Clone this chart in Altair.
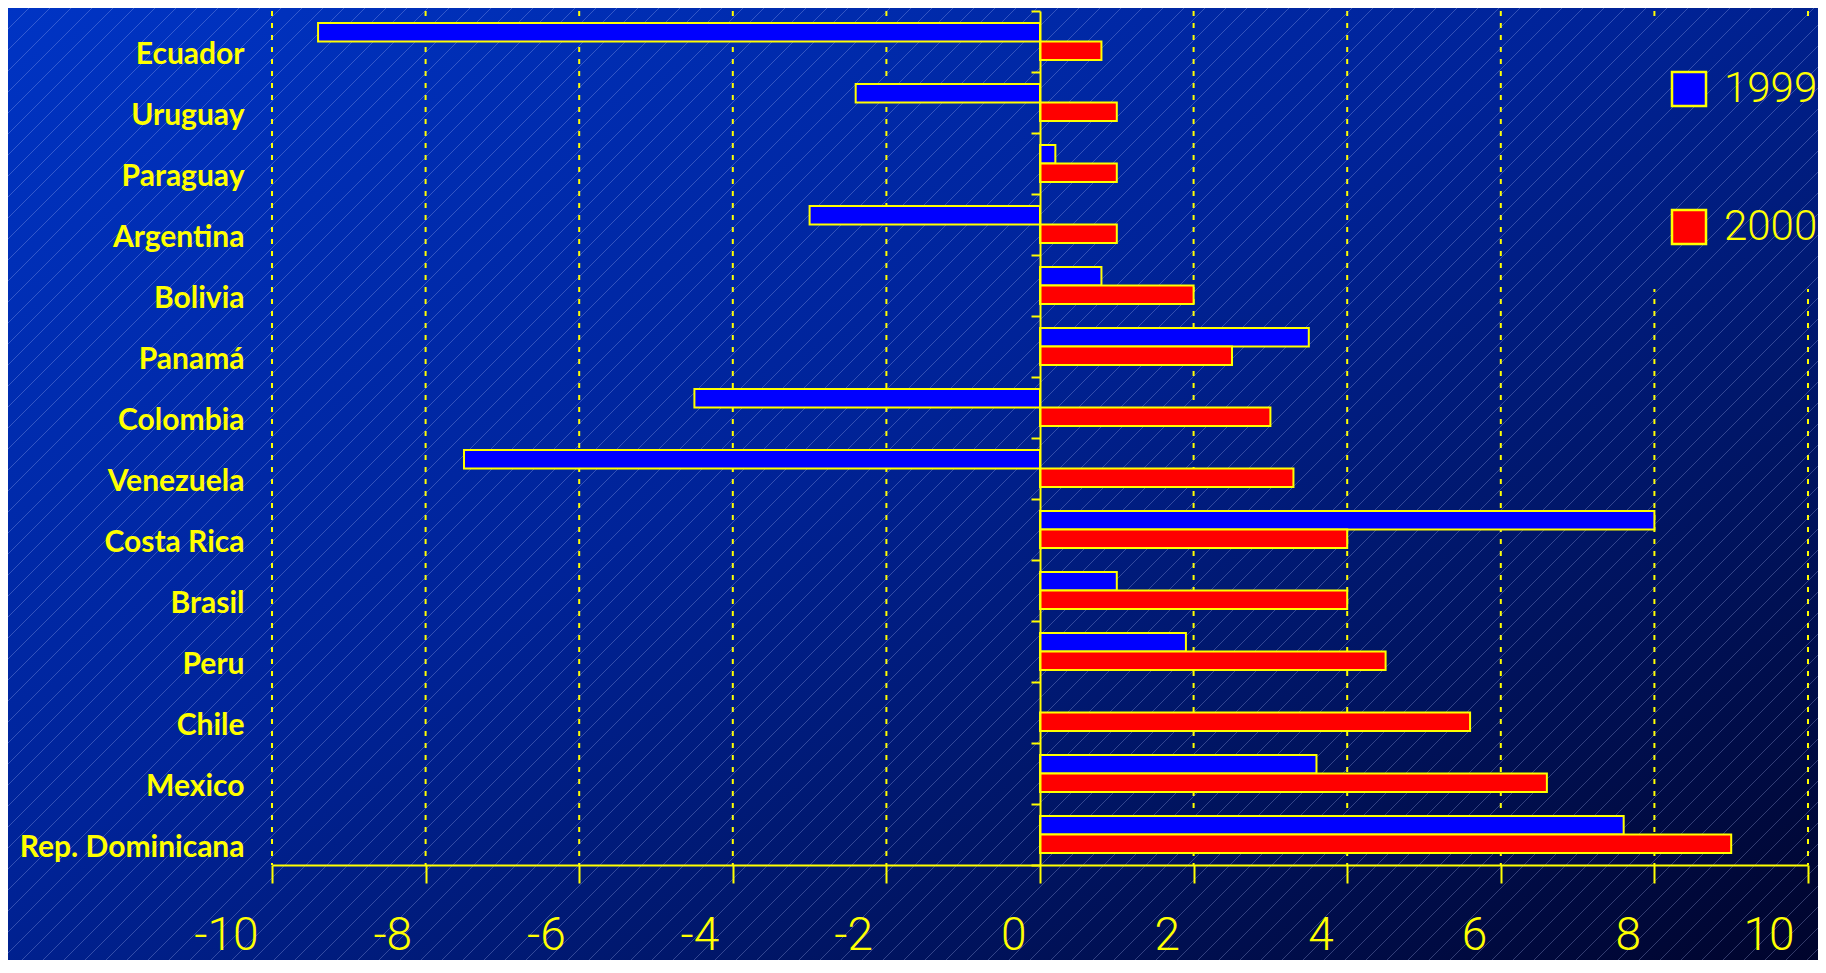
import altair as alt
import pandas as pd

# ---------------- data ----------------
countries = ["Ecuador", "Uruguay", "Paraguay", "Argentina", "Bolivia", "Panamá",
             "Colombia", "Venezuela", "Costa Rica", "Brasil", "Peru", "Chile",
             "Mexico", "Rep. Dominicana"]
growth_1999 = [-9.4, -2.4, 0.2, -3.0, 0.8, 3.5, -4.5, -7.5, 8.0, 1.0, 1.9, None, 3.6, 7.6]
growth_2000 = [0.8, 1.0, 1.0, 1.0, 2.0, 2.5, 3.0, 3.3, 4.0, 4.0, 4.5, 5.6, 6.6, 9.0]
years = ["1999", "2000"]
x_tick_values = [-10, -8, -6, -4, -2, 0, 2, 4, 6, 8, 10]
grid_values = [-10, -8, -6, -4, -2, 2, 4, 6, 8, 10]

rows = []
for c, a, b in zip(countries, growth_1999, growth_2000):
    rows.append({"country": c, "year": years[0], "value": a})
    rows.append({"country": c, "year": years[1], "value": b})
df = pd.DataFrame(rows)

# ---------------- layout / style ----------------
W, H = 1536, 854
PAD = {"left": 264, "top": 3, "right": 10, "bottom": 95}
SVG_W = W + PAD["left"] + PAD["right"]
SVG_H = H + PAD["top"] + PAD["bottom"]
YEL = "#FFFF00"
THIN = "Roboto, Liberation Sans, sans-serif"
BOLD = "Lato, Open Sans, sans-serif"

BG_STOPS = [(0.0, (0, 52, 196)), (0.45, (0, 35, 152)), (0.7, (0, 22, 104)), (1.0, (0, 4, 44))]


def bg_at(o):
    for (o0, c0), (o1, c1) in zip(BG_STOPS[:-1], BG_STOPS[1:]):
        if o0 <= o <= o1:
            t = (o - o0) / (o1 - o0)
            return "#%02x%02x%02x" % tuple(round(a + (b - a) * t) for a, b in zip(c0, c1))
    return "#%02x%02x%02x" % BG_STOPS[-1][1]


bg_grad = alt.LinearGradient(
    gradient="linear", x1=0, y1=0, x2=1, y2=1,
    stops=[alt.GradientStop(offset=o, color="#%02x%02x%02x" % c) for o, c in BG_STOPS],
)

one = pd.DataFrame({"k": [0]})

background = alt.Chart(one).mark_rect(fill=bg_grad).encode(
    x=alt.value(-PAD["left"]), x2=alt.value(W + PAD["right"]),
    y=alt.value(-PAD["top"]), y2=alt.value(H + PAD["bottom"]),
)

grid = alt.Chart(pd.DataFrame({"v": grid_values})).mark_rule(
    color=YEL, strokeWidth=2, strokeDash=[5, 7]
).encode(x=alt.X("v:Q"))

# panel behind the legend (hides the grid there, as in the original slide);
# its gradient continues the page gradient
CX0, CX1, CY0, CY1 = 1366, W + PAD["right"], 5, 278
cw, ch = CX1 - CX0, CY1 - CY0
t0 = (CX0 + PAD["left"]) / (2 * SVG_W) + (CY0 + PAD["top"]) / (2 * SVG_H)
ku, kv = cw / (2 * SVG_W), ch / (2 * SVG_H)
lam = (ku + kv) / (ku * ku + kv * kv)
cover_grad = alt.LinearGradient(
    gradient="linear", x1=0, y1=0, x2=ku * lam, y2=kv * lam,
    stops=[alt.GradientStop(offset=0, color=bg_at(t0)),
           alt.GradientStop(offset=1, color=bg_at(t0 + ku + kv))],
)
cover = alt.Chart(one).mark_rect(fill=cover_grad).encode(
    x=alt.value(CX0), x2=alt.value(CX1), y=alt.value(CY0), y2=alt.value(CY1),
)

# diagonal hatch texture of the slide background
slope, step = 1.0, 21
hx0, hx1 = -PAD["left"], W + PAD["right"]
hatch_rows = []
c = -PAD["top"]
while c < H + PAD["bottom"] + slope * (hx1 - hx0):
    hatch_rows.append({"x0": hx0, "x1": hx1, "y0": c, "y1": c - slope * (hx1 - hx0)})
    c += step
hatch = alt.Chart(pd.DataFrame(hatch_rows)).mark_rule(
    color="#b8c6ff", strokeWidth=1, opacity=0.28
).encode(
    x=alt.X("x0:Q", scale=None), x2="x1:Q",
    y=alt.Y("y0:Q", scale=None), y2="y1:Q",
)

bars = alt.Chart(df).mark_bar(stroke=YEL, strokeWidth=2, opacity=1).encode(
    x=alt.X(
        "value:Q",
        scale=alt.Scale(domain=[-10, 10], nice=False),
        axis=alt.Axis(
            values=x_tick_values, grid=False, title=None, zindex=1,
            domainColor=YEL, domainWidth=2, tickColor=YEL, tickWidth=2, tickSize=18,
            labelColor=YEL, labelFont=THIN, labelFontWeight=300, labelFontSize=46,
            labelAlign="right", labelBaseline="top", labelOffset=-14, labelPadding=30,
            labelFlush=False, labelOverlap=False, labelExpr="'' + datum.value",
        ),
    ),
    y=alt.Y(
        "country:N", sort=countries,
        scale=alt.Scale(paddingInner=0, paddingOuter=0),
        axis=alt.Axis(
            orient="left", offset=-W / 2, grid=False, title=None, zindex=1,
            domainColor=YEL, domainWidth=2, tickColor=YEL, tickWidth=2, tickSize=9,
            tickBand="extent", labelColor=YEL, labelFont=BOLD, labelFontWeight="bold",
            labelFontSize=30, labelPadding=787, labelLimit=500, labelAlign="right",
            labelBaseline="middle", labelOffset=13,
        ),
    ),
    yOffset=alt.YOffset("year:N", sort=years,
                        scale=alt.Scale(paddingInner=0, paddingOuter=0.65)),
    color=alt.Color(
        "year:N", sort=years,
        scale=alt.Scale(domain=years, range=["#0000FF", "#FF0000"]),
        legend=alt.Legend(
            orient="none", legendX=1396, legendY=57, title=None, direction="vertical",
            symbolType="square", symbolSize=1156, symbolStrokeColor=YEL,
            symbolStrokeWidth=2.5, symbolOpacity=1, labelColor=YEL, labelFont=THIN,
            labelFontWeight=300, labelFontSize=42, labelOffset=14, rowPadding=94,
            padding=0, labelLimit=300,
        ),
    ),
)

chart = alt.layer(background, grid, cover, hatch, bars).properties(
    width=W, height=H, padding=PAD, autosize=alt.AutoSizeParams(type="none"),
    background=bg_at(0.5),
).configure_view(strokeWidth=0)

chart.save("out.html", embed_options={"renderer": "svg", "actions": False})
